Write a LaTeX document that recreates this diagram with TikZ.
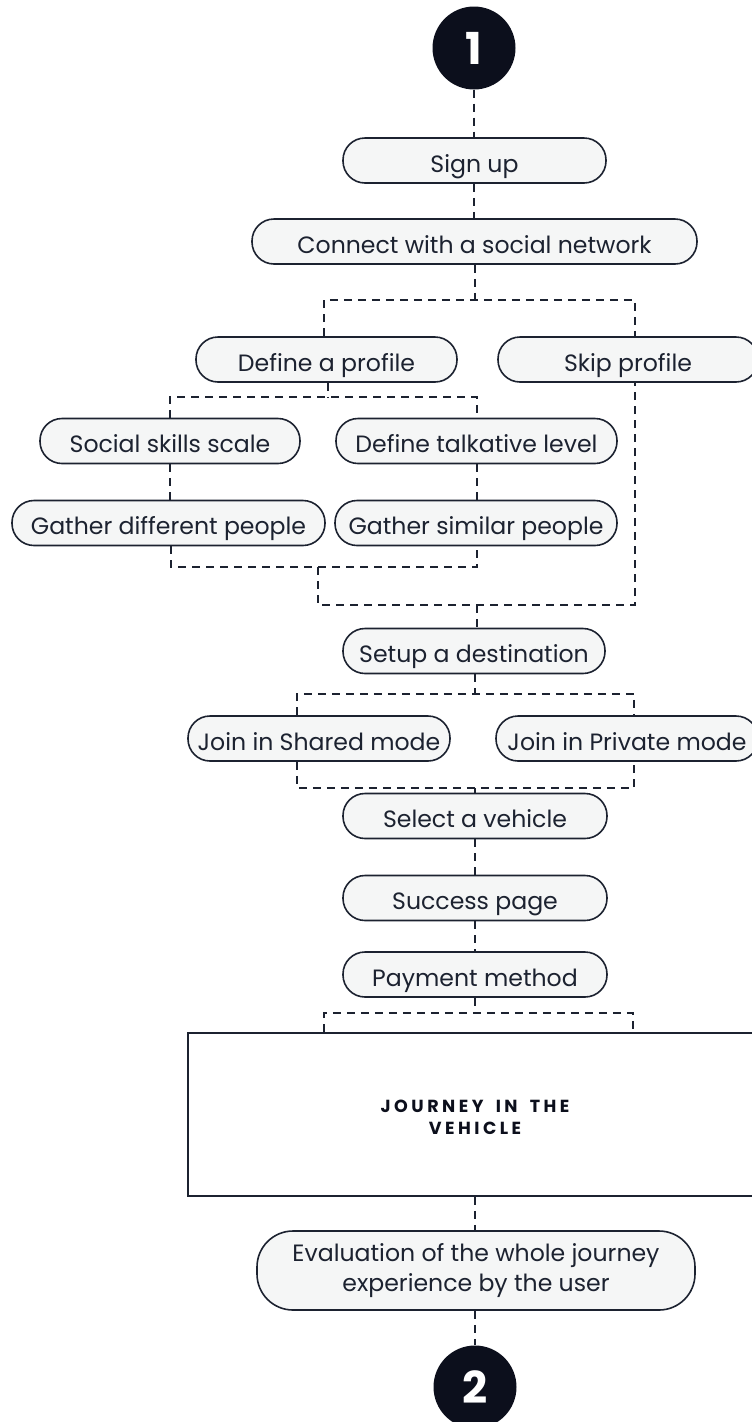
\documentclass[tikz,border=0pt]{standalone}
\usepackage{fontspec}
\setmainfont{Poppins}
\newfontfamily\numfont{Poppins}[UprightFont=* Bold]
\newfontfamily\capfont{Poppins}[UprightFont=* Bold, LetterSpace=20]
\usetikzlibrary{calc}
\definecolor{ink}{HTML}{1C2230}
\definecolor{paper}{HTML}{F5F6F6}
\definecolor{badge}{HTML}{0C0F1C}
\tikzset{
  pillbase/.style={draw=ink, fill=paper, line width=1.6pt, rounded corners=22pt,
    minimum height=45pt, inner sep=0pt, text=ink,
    font=\fontsize{23.6}{29.5}\selectfont},
  pill/.style={pillbase, text height=23pt, text depth=0pt},
  badgenode/.style={circle, fill=badge, minimum size=83pt, inner sep=0pt,
    text=white, font=\numfont\fontsize{44}{44}\selectfont},
  link/.style={draw=ink, line width=1.5pt, dash pattern=on 8pt off 6pt},
}
\newcommand{\wordgap}{\hspace{5pt}}
\begin{document}
\begin{tikzpicture}[x=1pt, y=-1pt]
\useasboundingbox (0,0) rectangle (752,1422);

% start and end badges
\node[badgenode] (b1) at (474,48) {1};
\node[badgenode] (b2) at (475,1387) {2};

% account steps
\node[pill, minimum width=263pt] (signup)  at (474.5,160.5) {Sign up};
\node[pill, minimum width=445pt] (connect) at (474.5,241.5) {Connect with a social network};
\node[pill, minimum width=261pt] (defprof) at (326.5,359.5) {Define a profile};
\node[pill, minimum width=260pt] (skip)    at (628,359.5)   {Skip profile};

% profile details
\node[pill, minimum width=260pt] (social) at (170,441)   {Social skills scale};
\node[pill, minimum width=281pt] (talk)   at (476.5,441) {Define talkative level};
\node[pill, minimum width=313pt] (gdiff)  at (168.5,523) {Gather different people};
\node[pill, minimum width=282pt] (gsim)   at (476,523)   {Gather similar people};

% trip booking
\node[pill, minimum width=262pt] (setup)   at (474,651)   {Setup a destination};
\node[pill, minimum width=262pt] (shared)  at (319,738.5) {Join in Shared mode};
\node[pill, minimum width=262pt] (private) at (627,738.5) {Join in Private mode};
\node[pill, minimum width=264pt] (select)  at (475,816)   {Select a vehicle};
\node[pill, minimum width=264pt] (success) at (475,898)   {Success page};
\node[pill, minimum width=264pt] (payment) at (475,974.5) {Payment method};

% journey stage
\node[draw=ink, fill=white, line width=1.6pt, minimum width=574pt, minimum height=163pt,
  inner sep=0pt] (journey) at (475,1114.5) {};
\node[align=center, text=badge, inner sep=0pt,
  font=\capfont\fontsize{17.5}{21.5}\selectfont] (journeytext)
  at ([yshift=-3pt]journey.center) {JOURNEY\wordgap{} IN\wordgap{} THE\\VEHICLE};
\node[pillbase, minimum width=438pt, minimum height=79pt, rounded corners=36pt,
  align=center] (eval) at (476,1270.5)
  {Evaluation of the whole journey\\experience by the user};

% junction points
\coordinate (j1) at (475,300);
\coordinate (j1l) at (324,300);
\coordinate (j1r) at (635,300);
\coordinate (j2) at (328,397);
\coordinate (j2l) at (170,397);
\coordinate (j2r) at (477,397);
\coordinate (j3l) at (171,567);
\coordinate (j3r) at (477,567);
\coordinate (j3m) at (318,567);
\coordinate (j4l) at (318,605);
\coordinate (j4r) at (635,605);
\coordinate (j4m) at (477,605);
\coordinate (j5) at (475,694);
\coordinate (j5l) at (297,694);
\coordinate (j5r) at (634,694);
\coordinate (j6) at (475,788);
\coordinate (j6l) at (297,788);
\coordinate (j6r) at (634,788);
\coordinate (j7) at (475,1013);
\coordinate (j7l) at (324,1013);
\coordinate (j7r) at (633,1013);

% connectors
\draw[link] (b1) -- (b1 |- signup.north);
\draw[link] (signup.south -| b1) -- (b1 |- connect.north);
\draw[link] (connect.south -| j1) -- (j1);
\draw[link] (j1l |- defprof.north) -- (j1l) -- (j1r) -- (j1r |- skip.north);

\draw[link] (j2 |- defprof.south) -- (j2);
\draw[link] (j2l |- social.north) -- (j2l) -- (j2r) -- (j2r |- talk.north);
\draw[link] (j2l |- social.south) -- (j2l |- gdiff.north);
\draw[link] (j2r |- talk.south) -- (j2r |- gsim.north);
\draw[link] (j3l |- gdiff.south) -- (j3l) -- (j3r) -- (j3r |- gsim.south);
\draw[link] (j3m) -- (j4l) -- (j4r) -- (j4r |- skip.south);
\draw[link] (j4m) -- (j4m |- setup.north);

\draw[link] (j5 |- setup.south) -- (j5);
\draw[link] (j5l |- shared.north) -- (j5l) -- (j5r) -- (j5r |- private.north);
\draw[link] (j6l |- shared.south) -- (j6l) -- (j6r) -- (j6r |- private.south);
\draw[link] (j6) -- (j6 |- select.north);
\draw[link] (j6 |- select.south) -- (j6 |- success.north);
\draw[link] (j6 |- success.south) -- (j6 |- payment.north);
\draw[link] (j7 |- payment.south) -- (j7);
\draw[link] (j7l |- journey.north) -- (j7l) -- (j7r) -- (j7r |- journey.north);

\draw[link] (j7 |- journey.south) -- (j7 |- eval.north);
\draw[link] (j7 |- eval.south) -- (b2);
\end{tikzpicture}
\end{document}
